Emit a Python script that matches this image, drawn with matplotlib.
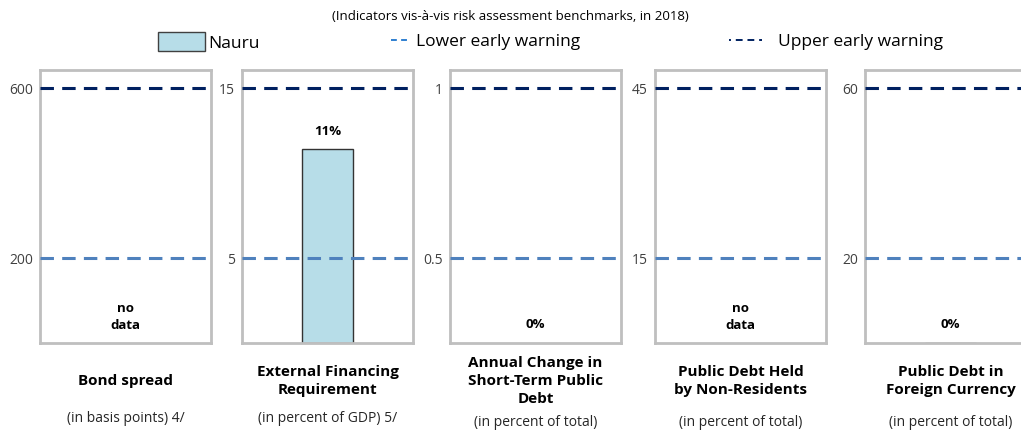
import numpy as np
import matplotlib as mpl
mpl.use('Agg')
from matplotlib import pyplot as plt
from matplotlib.patches import Patch
from matplotlib.lines import Line2D

plt.rcParams['font.family'] = ['Open Sans', 'DejaVu Sans']

# indicator panels, left to right
titles = ["Bond spread",
          "External Financing\nRequirement",
          "Annual Change in\nShort-Term Public\nDebt",
          "Public Debt Held\nby Non-Residents",
          "Public Debt in\nForeign Currency"]
units = ["(in basis points) 4/",
         "(in percent of GDP) 5/",
         "(in percent of total)",
         "(in percent of total)",
         "(in percent of total)"]
lower_ew = [200, 5, 0.5, 15, 20]
upper_ew = [600, 15, 1, 45, 60]
lower_lbl = ["200", "5", "0.5", "15", "20"]
upper_lbl = ["600", "15", "1", "45", "60"]
nauru = [None, 11.4, 0.0, None, 0.0]   # None -> no data

BAR_C = '#b7dde8'
UP_C = '#002060'
LO_C = '#4f81bd'
SPINE_C = '#bfbfbf'

W, H = 1021, 434
fig = plt.figure(figsize=(W / 100, H / 100), dpi=100)

lefts = [40, 242, 450, 655, 865]
ax_w, top, bot = 171, 70, 343
sub_y = [419, 419, 423, 423, 423]

for i in range(5):
    lo, up = lower_ew[i], upper_ew[i]
    span = up - lo
    ax = fig.add_axes([lefts[i] / W, 1 - bot / H, ax_w / W, (bot - top) / H])
    ax.set_xlim(-0.5, 0.5)
    # thresholds sit at the same height in every panel
    ax.set_ylim(lo - 0.5 * span, up + 0.106 * span)
    for s in ax.spines.values():
        s.set_color(SPINE_C)
        s.set_linewidth(2)
    ax.set_xticks([])
    ax.set_yticks([lo, up])
    ax.set_yticklabels([lower_lbl[i], upper_lbl[i]])
    ax.tick_params(axis='y', length=0, pad=5, labelsize=10, labelcolor='#404040')

    ax.axhline(up, color=UP_C, lw=2.2, ls=(0, (4.4, 2.7)), zorder=3)
    ax.axhline(lo, color=LO_C, lw=2.2, ls=(0, (4.4, 2.7)), zorder=3)

    v = nauru[i]
    if v is None:
        ax.text(0, 0.095, "no\ndata", transform=ax.get_xaxis_transform(),
                ha='center', va='center', fontsize=9.5, fontweight='bold',
                linespacing=1.4)
    else:
        ax.bar([0], [v], width=0.3, color=BAR_C, edgecolor='#333333', lw=1, zorder=2)
        if v > 0:
            ax.annotate("{:.0f}%".format(v), (0, v), xytext=(0, 13),
                        textcoords='offset points', ha='center', va='center',
                        fontsize=9.5, fontweight='bold')
        else:
            ax.text(0, 0.066, "{:.0f}%".format(v), transform=ax.get_xaxis_transform(),
                    ha='center', va='center', fontsize=9.5, fontweight='bold')

    cx = (lefts[i] + ax_w / 2) / W
    fig.text(cx, 1 - 381 / H, titles[i], ha='center', va='center',
             fontsize=11, fontweight='bold', linespacing=1.4)
    fig.text(cx, 1 - sub_y[i] / H, units[i], ha='center', va='center',
             fontsize=10, color='#262626')

fig.text(510 / W, 1 - 16 / H,
         "(Indicators vis-à-vis risk assessment benchmarks, in 2018)",
         ha='center', va='center', fontsize=9.5)

# legend entries, spread across the top
leg_kw = dict(frameon=False, loc='center left', borderpad=0, borderaxespad=0,
              fontsize=12.5)
fig.legend(handles=[Patch(facecolor=BAR_C, edgecolor='#404040', lw=1, label='Nauru')],
           bbox_to_anchor=(158 / W, 1 - 42 / H), handlelength=2.7,
           handleheight=1.3, handletextpad=0.2, **leg_kw)
fig.legend(handles=[Line2D([], [], color='#2f7fd0', lw=1.4, ls=(0, (3, 2.2)),
                           label='Lower early warning')],
           bbox_to_anchor=(391 / W, 1 - 42 / H), handlelength=1.0,
           handletextpad=0.45, **leg_kw)
fig.legend(handles=[Line2D([], [], color=UP_C, lw=1.4,
                           ls=(0, (1, 2.5, 3.5, 2.5, 3.5, 2.5, 3.5, 2.5)),
                           label='Upper early warning')],
           bbox_to_anchor=(729 / W, 1 - 42 / H), handlelength=1.9,
           handletextpad=0.9, **leg_kw)

fig.savefig('out.png', dpi=100, facecolor='w')
